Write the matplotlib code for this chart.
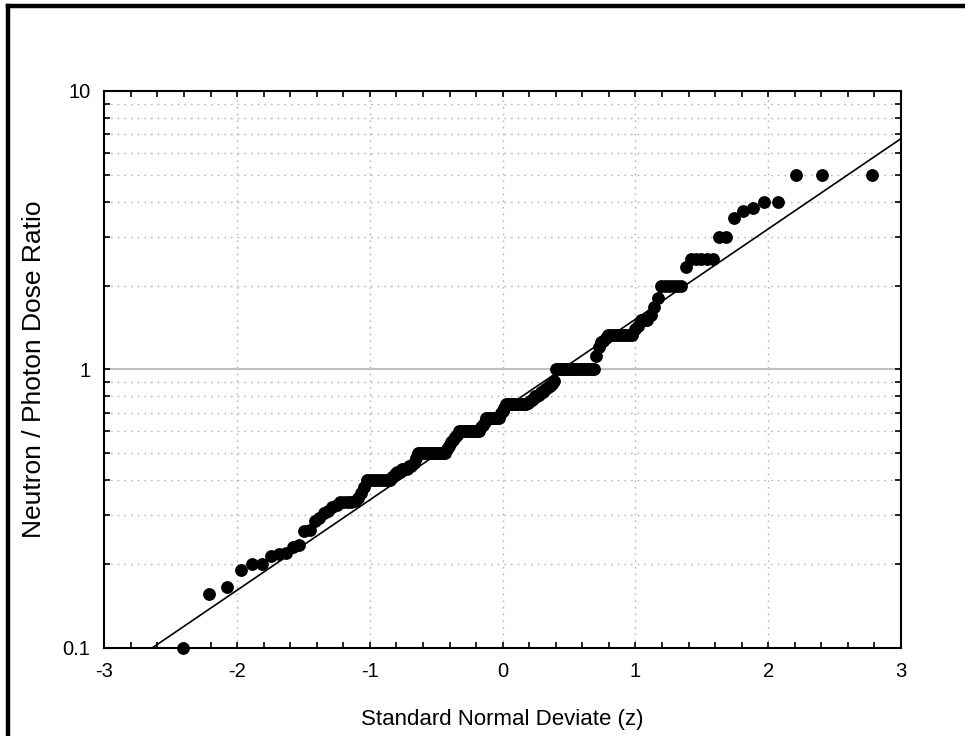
import matplotlib
matplotlib.use("Agg")
import matplotlib.pyplot as plt
from matplotlib.lines import Line2D
from matplotlib.ticker import FixedLocator, MultipleLocator, NullFormatter
import numpy as np
from statistics import NormalDist

# sorted neutron/photon dose ratios, run-length encoded (level, how many)
ratio_levels = [0.08, 0.1, 0.156, 0.166, 0.19, 0.2, 0.214, 0.217, 0.22, 0.23,
                0.235, 0.263, 0.265, 0.286, 0.294, 0.306, 0.31, 0.32, 0.325, 0.333,
                0.338, 0.345, 0.36, 0.38, 0.4, 0.41, 0.42, 0.43, 0.44, 0.45,
                0.46, 0.48, 0.5, 0.52, 0.53, 0.55, 0.56, 0.57, 0.58, 0.6,
                0.62, 0.63, 0.65, 0.667, 0.7, 0.71, 0.73, 0.75, 0.76, 0.77,
                0.78, 0.79, 0.8, 0.81, 0.83, 0.833, 0.85, 0.857, 0.87, 0.875,
                0.89, 0.91, 1.0, 1.12, 1.2, 1.25, 1.27, 1.3, 1.333, 1.4,
                1.43, 1.5, 1.57, 1.67, 1.8, 2.0, 2.33, 2.5, 3.0, 3.5,
                3.7, 3.8, 4.0, 5.0]
ratio_counts = [1, 1, 1, 1, 1, 2, 1, 1, 1, 1,
                1, 1, 1, 1, 1, 1, 1, 1, 1, 4,
                1, 1, 1, 1, 9, 1, 1, 2, 3, 2,
                1, 1, 14, 1, 1, 1, 1, 1, 1, 12,
                1, 1, 1, 8, 1, 1, 1, 12, 1, 1,
                1, 1, 2, 1, 1, 1, 1, 1, 1, 1,
                1, 1, 19, 1, 1, 1, 1, 1, 10, 1,
                1, 3, 1, 1, 1, 6, 1, 5, 2, 1,
                1, 1, 2, 3]

# lognormal fit drawn over the points
fit_median = 0.718
fit_gsd = 2.11

x_ticks = [-3, -2, -1, 0, 1, 2, 3]
y_ticks = [0.1, 1, 10]
y_tick_labels = ["0.1", "1", "10"]

plt.rcParams["font.family"] = ["Liberation Sans", "DejaVu Sans"]
plt.rcParams["axes.unicode_minus"] = False


def make_plot():
    ratios = np.repeat(ratio_levels, ratio_counts)
    n = len(ratios)
    nd = NormalDist()
    # Hazen plotting positions -> standard normal deviates
    z = np.array([nd.inv_cdf((i - 0.5) / n) for i in range(1, n + 1)])

    fig = plt.figure(figsize=(9.65, 7.36), dpi=100)
    ax = fig.add_axes([0.1081, 0.1196, 0.8256, 0.7568])

    ax.set_yscale("log")
    ax.set_xlim(-3, 3)
    ax.set_ylim(0.1, 10)

    # dotted grid on minor decades and on whole z values
    minor_y = [m * 10.0 ** e for e in (-1, 0) for m in range(2, 10)]
    for yv in minor_y:
        ax.axhline(yv, color="#a8a8a8", lw=1.0, ls=(0, (1, 3.8)), zorder=0)
    for xv in x_ticks[1:-1]:
        ax.axvline(xv, color="#a8a8a8", lw=1.0, ls=(0, (1, 3.8)), zorder=0)
    ax.axhline(1.0, color="#c0c0c0", lw=1.5, zorder=1)

    zz = np.array([-3.0, 3.0])
    fit = 10 ** (np.log10(fit_median) + np.log10(fit_gsd) * zz)
    ax.plot(zz, fit, color="black", lw=1.2, zorder=2)

    shown = ratios >= 0.1
    ax.plot(z[shown], ratios[shown], "o", color="black", ms=8.2,
            mec="black", clip_on=False, zorder=3)

    ax.xaxis.set_major_locator(FixedLocator(x_ticks))
    ax.xaxis.set_minor_locator(MultipleLocator(0.2))
    ax.set_xticklabels([str(t) for t in x_ticks])
    ax.yaxis.set_major_locator(FixedLocator(y_ticks))
    ax.yaxis.set_minor_locator(FixedLocator(minor_y))
    ax.yaxis.set_minor_formatter(NullFormatter())
    ax.set_yticklabels(y_tick_labels)

    ax.tick_params(which="both", direction="in", top=True, right=True,
                   length=4.5, width=1.2, labelsize=14.5, pad=10)
    for sp in ax.spines.values():
        sp.set_linewidth(1.5)

    ax.set_xlabel("Standard Normal Deviate (z)", fontsize=16, labelpad=20)
    ax.set_ylabel("Neutron / Photon Dose Ratio", fontsize=19, labelpad=12)

    # heavy frame around the whole picture (runs off right and bottom)
    fy = 1 - 6 / 736
    fx = 8 / 965
    fig.add_artist(Line2D([fx, 1.0], [fy, fy], color="black", lw=3.2,
                          transform=fig.transFigure))
    fig.add_artist(Line2D([fx, fx], [0.0, fy], color="black", lw=3.2,
                          transform=fig.transFigure))

    fig.savefig("out.png", dpi=100, facecolor="white")
    plt.close(fig)


if __name__ == "__main__":
    make_plot()
